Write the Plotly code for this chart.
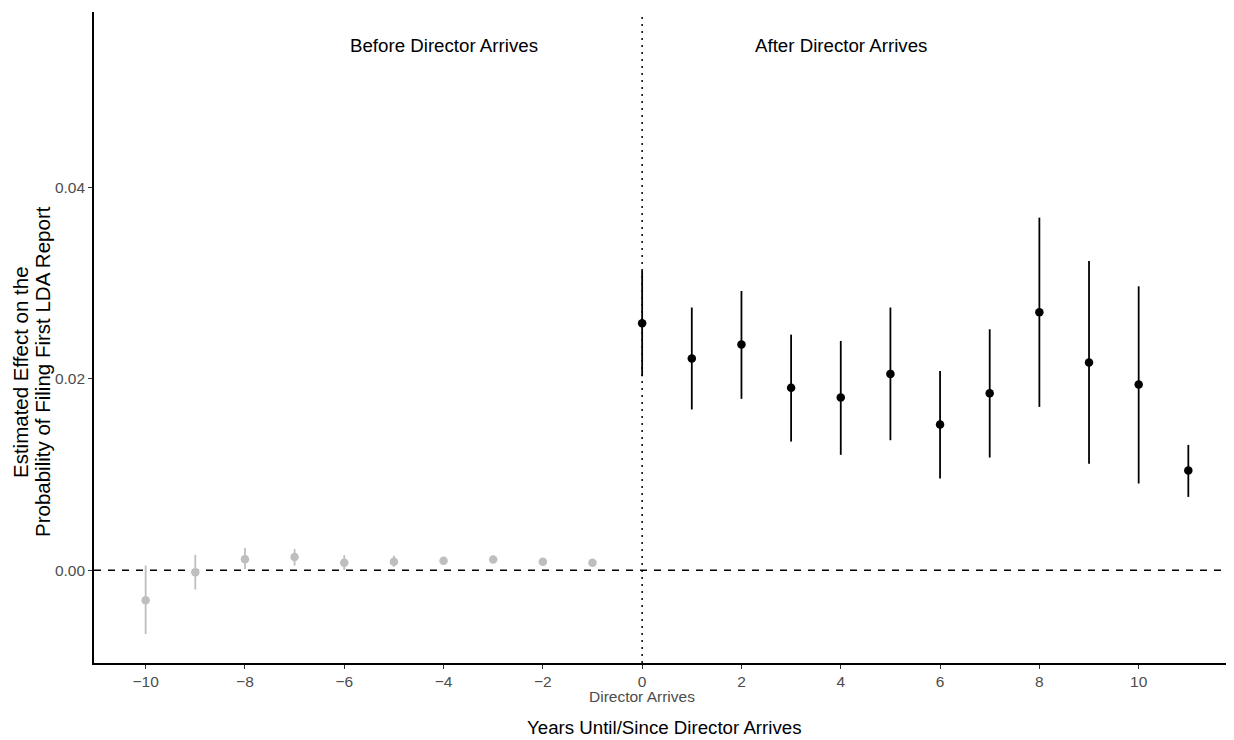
import plotly.graph_objects as go

# Data
years_before = [-10, -9, -8, -7, -6, -5, -4, -3, -2, -1]
est_before = [-0.00315, -0.00022, 0.00115, 0.00138, 0.00078, 0.00088, 0.00098, 0.00110, 0.00088, 0.00078]
lo_before = [-0.00667, -0.00203, 0.00012, 0.00048, 0.00002, 0.00036, 0.00060, 0.00090, 0.00078, 0.00068]
hi_before = [0.00048, 0.00160, 0.00230, 0.00220, 0.00157, 0.00150, 0.00138, 0.00130, 0.00098, 0.00088]

years_after = [0, 1, 2, 3, 4, 5, 6, 7, 8, 9, 10, 11]
est_after = [0.02579, 0.02210, 0.02356, 0.01904, 0.01803, 0.02050, 0.01521, 0.01848, 0.02694, 0.02168, 0.01938, 0.01041]
lo_after = [0.02025, 0.01678, 0.01789, 0.01343, 0.01204, 0.01357, 0.00957, 0.01176, 0.01705, 0.01110, 0.00905, 0.00765]
hi_after = [0.03130, 0.02743, 0.02916, 0.02460, 0.02394, 0.02743, 0.02080, 0.02516, 0.03682, 0.03229, 0.02965, 0.01308]

x_ticks = [-10, -8, -6, -4, -2, 0, 2, 4, 6, 8, 10]
x_ticktext = ["\u221210", "\u22128", "\u22126", "\u22124", "\u22122", "0", "2", "4", "6", "8", "10"]
y_ticks = [0.0, 0.02, 0.04]
y_ticktext = ["0.00", "0.02", "0.04"]

FONT = "Liberation Sans, Arial, Helvetica, sans-serif"
GREY = "#BEBEBE"
TICKCOL = "#4D4D4D"

# page body has an 8px default margin; figure is sized to fit the window
W, H = 1226, 732
L, T, R, B = 86, 4, 0, 77
PLOT_W = W - L - R
PLOT_H = H - T - B

def px_x(p):   # window pixel x -> paper x
    return (p - 8 - L) / PLOT_W

def px_y(p):   # window pixel y -> paper y
    return (H - B + 8 - p) / PLOT_H

fig = go.Figure()

def add_series(xs, est, lo, hi, color):
    fig.add_trace(go.Scatter(
        x=xs, y=est, mode="markers",
        marker=dict(color=color, size=8.5, line=dict(width=0)),
        error_y=dict(type="data", symmetric=False,
                     array=[h - e for h, e in zip(hi, est)],
                     arrayminus=[e - l for e, l in zip(est, lo)],
                     color=color, thickness=1.8, width=0),
        showlegend=False, hoverinfo="skip"))

add_series(years_before, est_before, lo_before, hi_before, GREY)
add_series(years_after, est_after, lo_after, hi_after, "black")

# reference lines
fig.add_shape(type="line", xref="paper", yref="y", x0=0, x1=1, y0=0, y1=0,
              line=dict(color="black", width=1.5, dash="7px,7px"), layer="below")
fig.add_shape(type="line", xref="x", yref="paper", x0=0, x1=0, y0=0, y1=1,
              line=dict(color="black", width=1.5, dash="2px,5px"), layer="below")

YT = 20.5
fig.update_layout(
    width=W, height=H,
    margin=dict(l=L, r=R, t=T, b=B),
    paper_bgcolor="white", plot_bgcolor="white",
    font=dict(family=FONT, color="black"),
    xaxis=dict(range=[-11.04, 11.92], tickvals=x_ticks, ticktext=x_ticktext,
               showgrid=False, zeroline=False, showline=True, linecolor="black",
               linewidth=1.6, ticks="outside", ticklen=4, tickwidth=1.2,
               tickcolor="#333333", tickfont=dict(size=15.5, color=TICKCOL, family=FONT)),
    yaxis=dict(range=[-0.0097, 0.0583], tickvals=y_ticks, ticktext=y_ticktext,
               showgrid=False, zeroline=False, showline=True, linecolor="black",
               linewidth=1.6, ticks="outside", ticklen=4, tickwidth=1.2,
               tickcolor="#333333", tickfont=dict(size=15.5, color=TICKCOL, family=FONT)),
    annotations=[
        dict(text="Before Director Arrives", x=-4, y=0.0548, xref="x", yref="y",
             showarrow=False, font=dict(size=18.7, color="black", family=FONT)),
        dict(text="After Director Arrives", x=4, y=0.0548, xref="x", yref="y",
             showarrow=False, font=dict(size=18.7, color="black", family=FONT)),
        dict(text="Director Arrives", x=0, y=0, xref="x", yref="paper",
             yanchor="top", yshift=-23, showarrow=False,
             font=dict(size=15.5, color=TICKCOL, family=FONT)),
        dict(text="Years Until/Since Director Arrives", x=0.5, y=px_y(727),
             xref="paper", yref="paper", xanchor="center", yanchor="middle",
             showarrow=False, font=dict(size=18.7, color="black", family=FONT)),
        dict(text="Estimated Effect on the",
             x=px_x(20), y=px_y(372), xref="paper", yref="paper", xanchor="center",
             yanchor="middle", textangle=-90, showarrow=False,
             font=dict(size=YT, color="black", family=FONT)),
        dict(text="Probability of Filing First LDA Report",
             x=px_x(42), y=px_y(372), xref="paper", yref="paper", xanchor="center",
             yanchor="middle", textangle=-90, showarrow=False,
             font=dict(size=YT, color="black", family=FONT)),
    ],
)

fig.write_html("out.html")
